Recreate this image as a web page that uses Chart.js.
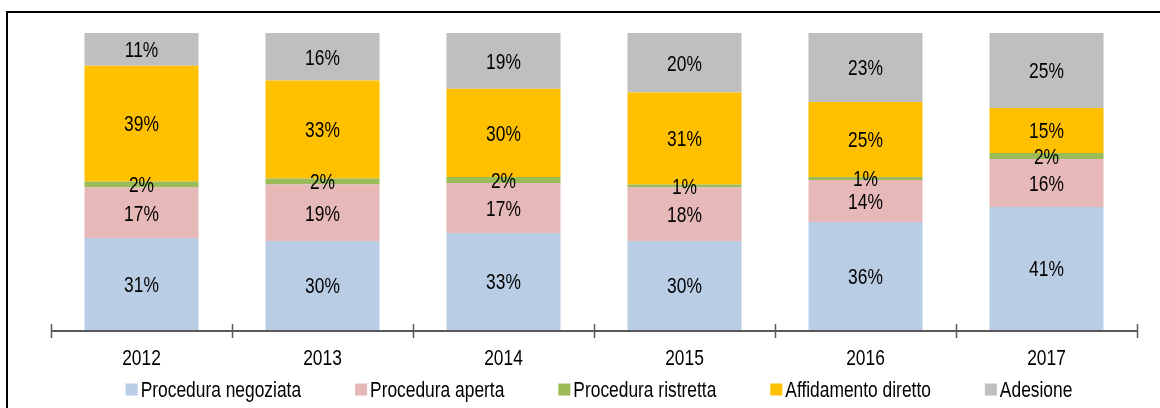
<!DOCTYPE html>
<html>
<head>
<meta charset="utf-8">
<script src="https://cdn.jsdelivr.net/npm/chart.js@4.4.1/dist/chart.umd.min.js"></script>
<style>
  html, body { margin: 0; padding: 0; background: #fff; overflow: hidden; }
  #frame { position: absolute; left: 6px; top: 11px; width: 2000px; height: 2000px;
           border-left: 2px solid #000; border-top: 2px solid #000; }
  #wrap { position: absolute; left: 0; top: 0; width: 1160px; height: 408px; }
</style>
</head>
<body>
<div id="frame"></div>
<div id="wrap"><canvas id="c" width="1160" height="408"></canvas></div>
<script>
// ---- data ----
const years = ['2012', '2013', '2014', '2015', '2016', '2017'];
const seriesNames = ['Procedura negoziata', 'Procedura aperta', 'Procedura ristretta', 'Affidamento diretto', 'Adesione'];
const negoziata   = [31, 30, 33, 30, 36, 41];
const aperta      = [17, 19, 17, 18, 14, 16];
const ristretta   = [2, 2, 2, 1, 1, 2];
const affidamento = [39, 33, 30, 31, 25, 15];
const adesione    = [11, 16, 19, 20, 23, 25];

const seriesValues = [negoziata, aperta, ristretta, affidamento, adesione];
const seriesColors = ['#B9CDE5', '#E6B9B8', '#9BBB59', '#FFC000', '#BFBFBF'];

// 100% stacked: each year's shares are scaled to fill the bar
const totals = years.map((_, i) => seriesValues.reduce((s, arr) => s + arr[i], 0));

const FONT_FAMILY = "'Liberation Sans', Arial, sans-serif";
const FONT_SIZE = 22;
const NARROW = 0.79;   // horizontal squeeze to mimic a narrow face
const TEXT_COLOR = '#000';
const AXIS_COLOR = '#595959';

function narrowText(ctx, text, x, y, align) {
  const w = ctx.measureText(text).width * NARROW;
  let sx = x;
  if (align === 'center') sx = x - w / 2;
  else if (align === 'right') sx = x - w;
  ctx.save();
  ctx.translate(sx, y);
  ctx.scale(NARROW, 1);
  ctx.textAlign = 'left';
  ctx.textBaseline = 'alphabetic';
  ctx.fillText(text, 0, 0);
  ctx.restore();
  return w;
}

const datasets = seriesNames.map((name, k) => ({
  label: name,
  rawValues: seriesValues[k],
  data: seriesValues[k].map((v, i) => v / totals[i] * 100),
  backgroundColor: seriesColors[k],
  borderWidth: 0,
  categoryPercentage: 1.0,
  barPercentage: 0.63
}));

const segmentLabels = {
  id: 'segmentLabels',
  afterDatasetsDraw(chart) {
    const ctx = chart.ctx;
    ctx.save();
    ctx.font = FONT_SIZE + 'px ' + FONT_FAMILY;
    ctx.fillStyle = TEXT_COLOR;
    chart.data.datasets.forEach((ds, di) => {
      const meta = chart.getDatasetMeta(di);
      meta.data.forEach((el, i) => {
        const p = el.getProps(['x', 'y', 'base'], true);
        const mid = (p.y + p.base) / 2;
        narrowText(ctx, ds.rawValues[i] + '%', p.x, mid + 0.358 * FONT_SIZE, 'center');
      });
    });
    ctx.restore();
  }
};

const axisDecor = {
  id: 'axisDecor',
  afterDraw(chart) {
    const xs = chart.scales.x;
    const ctx = chart.ctx;
    const n = chart.data.labels.length;
    const step = (xs.right - xs.left) / n;
    const axisY = chart.chartArea.bottom;
    ctx.save();
    // axis line
    ctx.strokeStyle = AXIS_COLOR;
    ctx.lineWidth = 2;
    ctx.beginPath();
    ctx.moveTo(xs.left, axisY + 1);
    ctx.lineTo(xs.right, axisY + 1);
    ctx.stroke();
    // boundary ticks crossing the axis
    ctx.lineWidth = 1.5;
    for (let i = 0; i <= n; i++) {
      const x = Math.round(xs.left + i * step) + 0.5;
      ctx.beginPath();
      ctx.moveTo(x, axisY - 6);
      ctx.lineTo(x, axisY + 8);
      ctx.stroke();
    }
    // category labels
    ctx.font = FONT_SIZE + 'px ' + FONT_FAMILY;
    ctx.fillStyle = TEXT_COLOR;
    chart.data.labels.forEach((lab, i) => {
      narrowText(ctx, lab, xs.getPixelForValue(i), axisY + 35, 'center');
    });
    ctx.restore();
  }
};

const customLegend = {
  id: 'customLegend',
  afterDraw(chart) {
    const ctx = chart.ctx;
    const area = chart.chartArea;
    ctx.save();
    ctx.font = FONT_SIZE + 'px ' + FONT_FAMILY;
    const box = 12, gap = 3, spacing = 54;
    const items = chart.data.datasets.map(ds => ({
      text: ds.label, color: ds.backgroundColor, w: ctx.measureText(ds.label).width * NARROW
    }));
    const total = items.reduce((s, it) => s + box + gap + it.w, 0) + spacing * (items.length - 1);
    let x = (area.left + area.right) / 2 + 5 - total / 2;
    const baseline = 396.5;
    items.forEach(it => {
      ctx.fillStyle = it.color;
      ctx.fillRect(x, baseline - 13, box, box);
      ctx.fillStyle = TEXT_COLOR;
      narrowText(ctx, it.text, x + box + gap, baseline, 'left');
      x += box + gap + it.w + spacing;
    });
    ctx.restore();
  }
};

new Chart(document.getElementById('c'), {
  type: 'bar',
  data: { labels: years, datasets },
  options: {
    responsive: false,
    animation: false,
    layout: { padding: { top: 33, left: 51, right: 23, bottom: 70 } },
    plugins: {
      legend: { display: false },
      tooltip: { enabled: false }
    },
    scales: {
      x: {
        stacked: true,
        offset: true,
        grid: { display: false },
        border: { display: false },
        ticks: { display: false }
      },
      y: {
        stacked: true,
        display: false,
        min: 0,
        max: 100
      }
    }
  },
  plugins: [segmentLabels, axisDecor, customLegend]
});
</script>
</body>
</html>
